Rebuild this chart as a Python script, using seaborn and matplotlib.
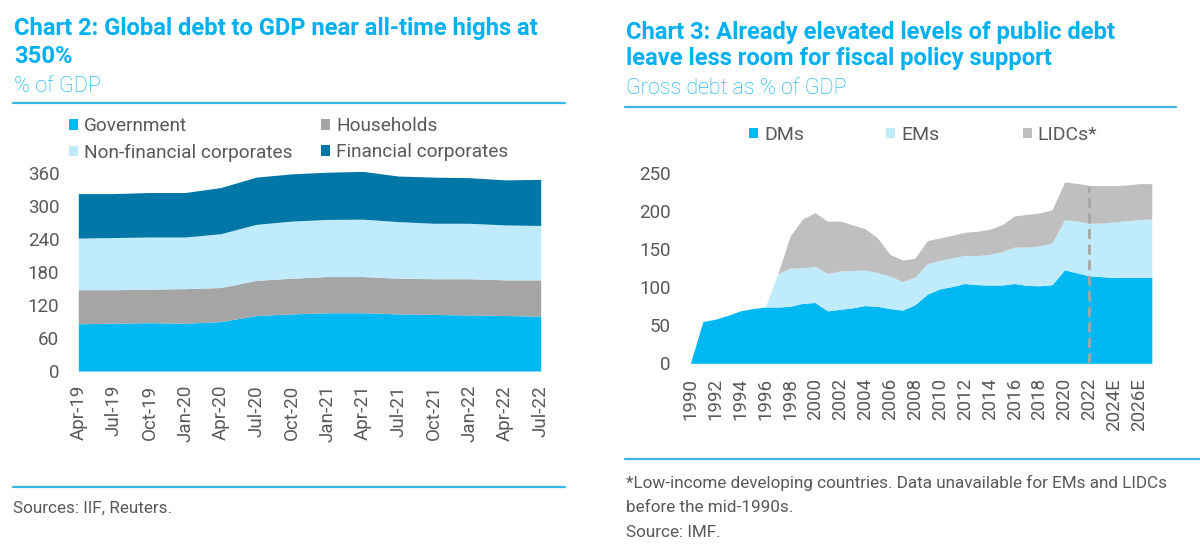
import numpy as np
import pandas as pd
import matplotlib
matplotlib.use("Agg")
import matplotlib.pyplot as plt
import seaborn as sns
from matplotlib.lines import Line2D
from matplotlib.patches import Patch

# ---------------- data: Chart 2 ----------------
quarters = ["Apr-19", "Jul-19", "Oct-19", "Jan-20", "Apr-20", "Jul-20", "Oct-20",
            "Jan-21", "Apr-21", "Jul-21", "Oct-21", "Jan-22", "Apr-22", "Jul-22"]
government = [86, 87, 88, 87, 90, 101, 104, 106, 106, 104, 103, 102, 101, 100]
households = [62, 61, 61, 63, 62, 64, 65, 66, 66, 65, 65, 66, 65, 66]
nonfin_corp = [94, 95, 95, 94, 98, 102, 104, 104, 104.5, 103, 101, 101, 100, 99]
fin_corp = [81, 80, 81, 81, 84, 86, 86, 86, 87, 83, 84, 83, 82, 84]
left_yticks = [0, 60, 120, 180, 240, 300, 360]

# ---------------- data: Chart 3 ----------------
years = [str(y) for y in range(1990, 2023)] + ["2023E", "2024E", "2025E", "2026E", "2027E"]
year_labels = ["1990", "1992", "1994", "1996", "1998", "2000", "2002", "2004", "2006",
               "2008", "2010", "2012", "2014", "2016", "2018", "2020", "2022", "2024E", "2026E"]
dms = [0, 55, 58, 63, 69, 72, 74, 74, 75, 79, 80, 69, 71, 73, 76, 75, 72, 70, 77, 91,
       98, 101, 105, 103.5, 103, 103, 105, 102.5, 102, 103.5, 123, 119, 115, 114, 113, 113, 113, 113]
ems = [0, 0, 0, 0, 0, 0, 0, 43.5, 50.4, 46.4, 47.6, 49, 50.5, 49, 46.8, 44.3, 42.9, 37.5,
       36.2, 40.1, 37.5, 37.6, 37.1, 38.2, 40.4, 43.9, 48, 50.5, 52.4, 54.8, 66, 68.3, 69.2,
       70.6, 73, 74.7, 76, 76.9]
lidcs = [0, 0, 0, 0, 0, 0, 0, 0, 42.1, 64.5, 70.6, 68.8, 65.8, 60, 54.4, 45.7, 28.5, 28.5,
         25, 30.3, 29.5, 29.8, 30.3, 32, 32.9, 35.6, 40.9, 43, 43.4, 43.5, 49.6, 49.5, 50,
         49.2, 47.8, 46.9, 47.4, 46.5]
right_yticks = [0, 50, 100, 150, 200, 250]
forecast_start = "2022"
forecast_line_top = 232.4

# ---------------- style ----------------
sns.set_theme(style="white")
plt.rcParams['font.family'] = ['Roboto', 'DejaVu Sans']

BLUE = "#00B8F1"
GREY = "#A5A5A5"
LIGHT = "#BFEBFC"
DARK = "#0077A6"
LGREY = "#BFBFBF"
TITLE = "#00B0F0"
RULE = "#3AB4E6"
TXT = "#595959"

W, H = 1200, 559
fig = plt.figure(figsize=(12, 5.59), dpi=100)
fig.patch.set_facecolor("white")


def fx(x):
    return x / W


def fy(y):
    return 1 - y / H


def axes_px(x0, x1, y_top, y_bot):
    return fig.add_axes([fx(x0), fy(y_bot), (x1 - x0) / W, (y_bot - y_top) / H])


# ---------------- left chart ----------------
k_left = (371 - 173.3) / 360
ymax_left = 366
axL = axes_px(78.3, 540.7, 371 - ymax_left * k_left, 371)
xq = np.arange(len(quarters))
dfL = pd.DataFrame({"Government": government, "Households": households,
                    "Non-financial corporates": nonfin_corp,
                    "Financial corporates": fin_corp}, index=quarters)
axL.stackplot(xq, dfL["Government"], dfL["Households"],
              dfL["Non-financial corporates"], dfL["Financial corporates"],
              colors=[BLUE, GREY, LIGHT, DARK], linewidth=0)
axL.set_xlim(0, len(quarters) - 1)
axL.set_ylim(0, ymax_left)
axL.set_yticks(left_yticks)
axL.set_yticklabels([str(v) for v in left_yticks])
axL.set_xticks(xq)
axL.set_xticklabels(quarters, rotation=90, va="top", ha="center")
axL.tick_params(axis="y", length=0, pad=13.7, labelsize=13.5, labelcolor=TXT)
axL.tick_params(axis="x", length=0, pad=10, labelsize=13.5, labelcolor=TXT)
sns.despine(ax=axL, left=True, bottom=True)
axL.grid(False)
axL.set_facecolor("white")

# ---------------- right chart ----------------
axR = axes_px(690.4, 1151.8, 173.3, 363.3)
xy = np.arange(len(years))
dfR = pd.DataFrame({"DMs": dms, "EMs": ems, "LIDCs*": lidcs}, index=years)
axR.stackplot(xy, dfR["DMs"], dfR["EMs"], dfR["LIDCs*"],
              colors=[BLUE, LIGHT, LGREY], linewidth=0)
fpos = years.index(forecast_start)
axR.plot([fpos, fpos], [0, forecast_line_top], color="#A6A6A6", lw=2.0,
         linestyle=(0, (3.6, 2.0)), solid_capstyle="butt")
axR.set_xlim(0, len(years) - 1)
axR.set_ylim(0, 250)
axR.set_yticks(right_yticks)
axR.set_yticklabels([str(v) for v in right_yticks])
axR.set_xticks([years.index(l) for l in year_labels])
axR.set_xticklabels(year_labels, rotation=90, va="top", ha="center")
axR.tick_params(axis="y", length=0, pad=14.2, labelsize=13.5, labelcolor=TXT)
axR.tick_params(axis="x", length=0, pad=10.6, labelsize=13.5, labelcolor=TXT)
sns.despine(ax=axR, left=True, bottom=True)
axR.grid(False)
axR.set_facecolor("white")

# ---------------- legends ----------------
def add_legend(handles, labels, x, y, fs):
    lg = fig.legend(handles, labels, loc="center left", bbox_to_anchor=(fx(x), fy(y)),
                    bbox_transform=fig.transFigure, frameon=False, borderpad=0,
                    borderaxespad=0, handlelength=0.47, handleheight=0.47,
                    handletextpad=0.3, labelspacing=0.43, fontsize=fs,
                    labelcolor=TXT)
    return lg


hL = [Patch(facecolor=c, edgecolor="none") for c in [BLUE, GREY, LIGHT, DARK]]
add_legend([hL[0], hL[2]], ["Government", "Non-financial corporates"], 69, 139.4, 13.7)
add_legend([hL[1], hL[3]], ["Households", "Financial corporates"], 321.4, 139.4, 13.7)

hR = [Patch(facecolor=c, edgecolor="none") for c in [BLUE, LIGHT, LGREY]]
for h, lab, x in zip(hR, ["DMs", "EMs", "LIDCs*"], [749, 886, 1022.5]):
    add_legend([h], [lab], x, 135, 14)

# ---------------- titles / text ----------------
TS = 17.1
fig.text(fx(13.8), fy(35), "Chart 2: Global debt to GDP near all-time highs at",
         color=TITLE, fontsize=TS, fontweight="bold", va="baseline", ha="left")
fig.text(fx(13.8), fy(63.3), "350%", color=TITLE, fontsize=TS, fontweight="bold",
         va="baseline", ha="left")
fig.text(fx(13.8), fy(91.7), "% of GDP", color=TITLE, fontsize=15.5, fontweight="light",
         va="baseline", ha="left")

fig.text(fx(626), fy(39), "Chart 3: Already elevated levels of public debt",
         color=TITLE, fontsize=TS, fontweight="bold", va="baseline", ha="left")
fig.text(fx(626), fy(65), "leave less room for fiscal policy support",
         color=TITLE, fontsize=TS, fontweight="bold", va="baseline", ha="left")
fig.text(fx(626), fy(94), "Gross debt as % of GDP", color=TITLE, fontsize=15.5,
         fontweight="light", va="baseline", ha="left")

fig.text(fx(13.4), fy(512.7), "Sources: IIF, Reuters.", color=TXT, fontsize=12.3,
         va="baseline", ha="left")
FS = 12.3
fig.text(fx(626), fy(487.7),
         "*Low-income developing countries. Data unavailable for EMs and LIDCs",
         color=TXT, fontsize=FS, va="baseline", ha="left")
fig.text(fx(626), fy(511.7), "before the mid-1990s.", color=TXT, fontsize=FS,
         va="baseline", ha="left")
fig.text(fx(626), fy(536.7), "Source: IMF.", color=TXT, fontsize=FS,
         va="baseline", ha="left")

# ---------------- rules ----------------
for (x0, x1, y) in [(13.4, 564.5, 103.3), (13.4, 564.5, 486.7),
                    (625, 1176, 106.7), (625, 1200, 459.3)]:
    fig.add_artist(Line2D([fx(x0), fx(x1)], [fy(y), fy(y)], color=RULE, lw=1.6,
                          transform=fig.transFigure))

fig.savefig("out.png", dpi=100, facecolor="white")
